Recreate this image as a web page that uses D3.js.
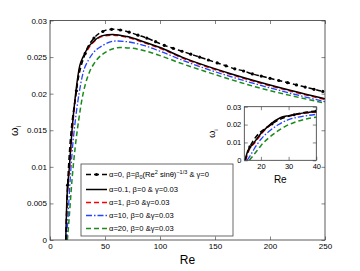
<!DOCTYPE html>
<html>
<head>
<meta charset="utf-8">
<script src="https://cdn.jsdelivr.net/npm/d3@7"></script>
<style>
  body { margin: 0; background: #fff; }
  text { font-family: "Liberation Sans", Arial, sans-serif; fill: #000; }
</style>
</head>
<body>
<div id="chart"></div>
<script>
// Data
const reA0 = [14.3, 16, 24, 32, 40, 48, 56, 64, 72, 80, 88, 96, 104, 112, 120, 128, 136, 144,
  152, 160, 168, 176, 184, 192, 200, 208, 216, 224, 232, 240, 248];
const wA0 = [0, .0075, .0204, .0255, .0276, .0285, .0288, .0287, .0284, .0280, .0276, .0271,
  .0266, .0262, .0258, .0254, .0250, .0246, .0242, .0238, .0234, .0231, .0227, .0224, .0221,
  .0218, .0215, .0212, .0209, .0206, .0203];

const reA01 = [14.3, 15.2, 17.5, 20, 23.3, 27, 30, 35, 40, 47, 57, 70, 85, 100, 120, 140, 165, 190, 220, 250];
const wA01 = [0, .005, .0098, .015, .020, .0238, .0250, .0264, .0272, .0279, .0281, .0278, .0271,
  .0263, .0250, .0239, .0227, .0216, .0204, .0193];

const reA1 = [14.5, 15.5, 17.8, 20.3, 23.6, 27.3, 30, 35, 40, 47, 57, 70, 85, 100, 120, 140, 165, 190, 220, 250];
const wA1 = [0, .005, .0098, .015, .020, .0237, .0248, .0262, .0271, .0278, .0280, .0277, .0270,
  .0262, .0249, .0238, .0226, .0215, .0203, .0192];

const reA10 = [15, 16.3, 17.5, 20, 23, 26.4, 30, 35, 40, 47, 60, 70, 85, 100, 120, 140, 165, 190, 220, 250];
const wA10 = [0, .003, .0062, .0118, .0163, .020, .0228, .0246, .0257, .0265, .0272, .0271, .0266,
  .0258, .0246, .0235, .0223, .0212, .0200, .0189];

const reA20 = [15.8, 17, 18.5, 20, 23, 26, 28.8, 32, 36, 40, 47, 64, 75, 85, 100, 120, 140, 165, 190, 220, 250];
const wA20 = [0, .0022, .0052, .0082, .0128, .0163, .019, .0212, .0230, .0241, .0253, .0263, .0262,
  .0259, .0252, .0241, .0231, .0219, .0208, .0197, .0187];

const xTicks = [0, 50, 100, 150, 200, 250];
const yTicks = [0, 0.005, 0.01, 0.015, 0.02, 0.025, 0.03];
const yTickLabels = ["0", "0.005", "0.01", "0.015", "0.02", "0.025", "0.03"];
const insetXTicks = [20, 30, 40];
const insetYTicks = [0, 0.01, 0.02, 0.03];
const insetYTickLabels = ["0", "0.01", "0.02", "0.03"];

const series = [
  { re: reA0, w: wA0, color: "#000", dash: "5,3", width: 1.5, markers: true },
  { re: reA01, w: wA01, color: "#000", dash: null, width: 1.5, markers: false },
  { re: reA1, w: wA1, color: "#ff0000", dash: "5,3", width: 1.5, markers: false },
  { re: reA10, w: wA10, color: "#2244ff", dash: "6,2,1.5,2", width: 1.3, markers: false },
  { re: reA20, w: wA20, color: "#1a8a1a", dash: "5,3", width: 1.5, markers: false }
];

const W = 360, H = 271;
const svg = d3.select("#chart").append("svg")
  .attr("width", W).attr("height", H);

// Draw one MATLAB-like axes box with inward ticks on all sides
function drawAxes(g, x, y, xt, yt, ytl, fs) {
  const [x0, x1] = x.range();
  const [y0, y1] = y.range();
  g.append("g")
    .attr("transform", "translate(0," + y0 + ")")
    .call(d3.axisBottom(x).tickValues(xt).tickSize(-3.5).tickSizeOuter(0).tickPadding(3))
    .call(s => s.selectAll("text").style("font-size", fs + "px"));
  g.append("g")
    .attr("transform", "translate(0," + y1 + ")")
    .call(d3.axisTop(x).tickValues(xt).tickSize(-3.5).tickSizeOuter(0).tickFormat(""));
  g.append("g")
    .attr("transform", "translate(" + x0 + ",0)")
    .call(d3.axisLeft(y).tickValues(yt).tickSize(-3.5).tickSizeOuter(0).tickPadding(3)
      .tickFormat((d, i) => ytl[i]))
    .call(s => s.selectAll("text").style("font-size", fs + "px"));
  g.append("g")
    .attr("transform", "translate(" + x1 + ",0)")
    .call(d3.axisRight(y).tickValues(yt).tickSize(-3.5).tickSizeOuter(0).tickFormat(""));
  g.selectAll(".domain").remove();
  g.selectAll(".tick line").attr("stroke", "#333").attr("stroke-width", 0.6);
  g.append("rect")
    .attr("x", x0).attr("y", y1).attr("width", x1 - x0).attr("height", y0 - y1)
    .attr("fill", "none").attr("stroke", "#333").attr("stroke-width", 0.8);
}

function drawSeries(g, x, y, clipId) {
  const line = d3.line().x((d) => x(d[0])).y((d) => y(d[1])).curve(d3.curveMonotoneX);
  const cg = g.append("g").attr("clip-path", "url(#" + clipId + ")");
  // draw back to front so the solid black stays on top of red
  [4, 3, 2, 1, 0].forEach(i => {
    const s = series[i];
    const pts = s.re.map((r, j) => [r, s.w[j]]);
    cg.append("path")
      .attr("d", line(pts))
      .attr("fill", "none")
      .attr("stroke", s.color)
      .attr("stroke-width", s.width)
      .attr("stroke-dasharray", s.dash);
    if (s.markers) {
      cg.selectAll(null).data(pts.slice(1)).enter().append("circle")
        .attr("cx", d => x(d[0])).attr("cy", d => y(d[1]))
        .attr("r", 1.6).attr("fill", "#000");
    }
  });
}

// Main axes
const x = d3.scaleLinear().domain([0, 250]).range([50, 325]);
const y = d3.scaleLinear().domain([0, 0.03]).range([240, 20.5]);

const defs = svg.append("defs");
defs.append("clipPath").attr("id", "clipMain").append("rect")
  .attr("x", 50).attr("y", 20.5).attr("width", 275).attr("height", 219.5);

const main = svg.append("g");
drawSeries(main, x, y, "clipMain");
drawAxes(main, x, y, xTicks, yTicks, yTickLabels, 8);

main.append("text")
  .attr("x", 187.5).attr("y", 264)
  .attr("text-anchor", "middle").style("font-size", "12px")
  .text("Re");

main.append("text")
  .attr("transform", "translate(18,131) rotate(-90)")
  .attr("text-anchor", "middle").style("font-size", "11px")
  .text("ω")
  .append("tspan").attr("dy", "3").style("font-size", "7px").text("i");

// Legend
const lg = svg.append("g");
lg.append("rect")
  .attr("x", 81).attr("y", 164).attr("width", 152).attr("height", 72)
  .attr("fill", "#fff").attr("stroke", "#444").attr("stroke-width", 0.8);
const legendY = [174.5, 189.5, 202.5, 215.5, 228.5];
series.forEach((s, i) => {
  const ly = legendY[i];
  lg.append("line")
    .attr("x1", 86).attr("x2", 107).attr("y1", ly).attr("y2", ly)
    .attr("stroke", s.color).attr("stroke-width", s.width)
    .attr("stroke-dasharray", s.dash);
  if (s.markers) {
    lg.append("circle").attr("cx", 96.5).attr("cy", ly).attr("r", 1.6).attr("fill", "#000");
  }
});
const lfs = 7.6;
const t0 = lg.append("text").attr("x", 109).attr("y", legendY[0] + 2.8).style("font-size", lfs + "px");
t0.append("tspan").text("α=0, β=β");
t0.append("tspan").attr("dy", 2).style("font-size", "5.5px").text("0");
t0.append("tspan").attr("dy", -2).text("(Re");
t0.append("tspan").attr("dy", -3).style("font-size", "5.5px").text("2");
t0.append("tspan").attr("dy", 3).text(" sinθ)");
t0.append("tspan").attr("dy", -3).style("font-size", "5.5px").text("−1/3");
t0.append("tspan").attr("dy", 3).text(" & γ=0");
const legendText = ["α=0.1, β=0 & γ=0.03", "α=1, β=0 &γ=0.03", "α=10, β=0 &γ=0.03", "α=20, β=0 &γ=0.03"];
legendText.forEach((t, i) => {
  lg.append("text").attr("x", 109).attr("y", legendY[i + 1] + 2.8)
    .style("font-size", lfs + "px").text(t);
});

// Inset axes
const xi = d3.scaleLinear().domain([14, 40]).range([244.3, 316.3]);
const yi = d3.scaleLinear().domain([0, 0.03]).range([160.3, 106.7]);
defs.append("clipPath").attr("id", "clipInset").append("rect")
  .attr("x", 244.3).attr("y", 106.7).attr("width", 72).attr("height", 53.6);

const inset = svg.append("g");
inset.append("rect")
  .attr("x", 244.3).attr("y", 106.7).attr("width", 72).attr("height", 53.6)
  .attr("fill", "#fff");
drawSeries(inset, xi, yi, "clipInset");
drawAxes(inset, xi, yi, insetXTicks, insetYTicks, insetYTickLabels, 7.5);

inset.append("text")
  .attr("x", 280.3).attr("y", 183)
  .attr("text-anchor", "middle").style("font-size", "10px")
  .text("Re");
inset.append("text")
  .attr("transform", "translate(215,133.5) rotate(-90)")
  .attr("text-anchor", "middle").style("font-size", "9px")
  .text("ω")
  .append("tspan").attr("dy", "2.5").style("font-size", "6px").text("i");
</script>
</body>
</html>
